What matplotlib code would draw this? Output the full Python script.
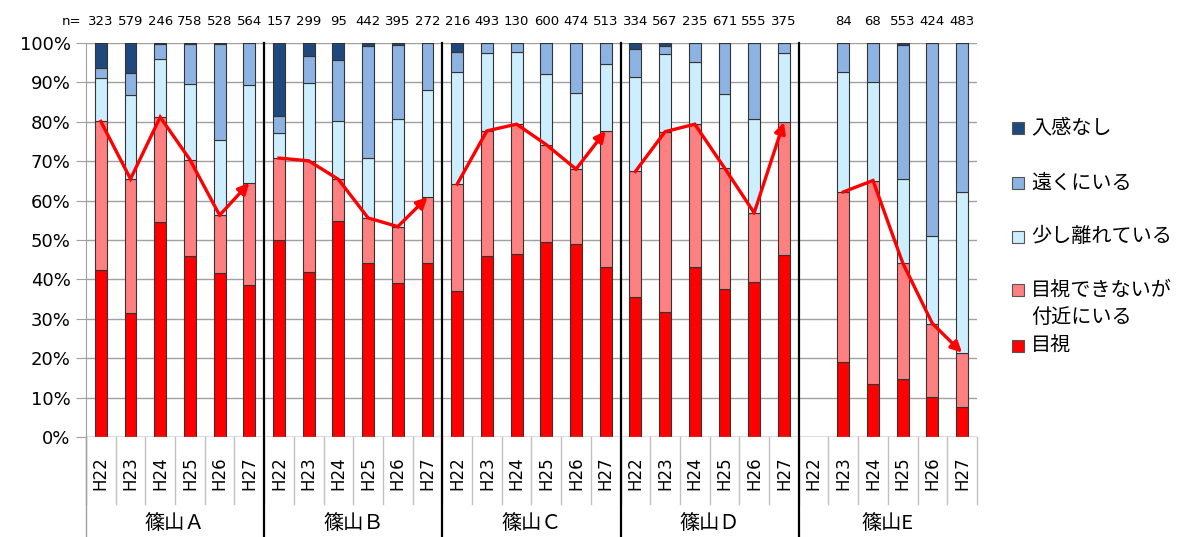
import numpy as np
import matplotlib.pyplot as plt
from matplotlib.patches import Rectangle

plt.rcParams['font.family'] = ['Noto Sans CJK JP', 'DejaVu Sans']

groups = ['篠山Ａ', '篠山Ｂ', '篠山Ｃ', '篠山Ｄ', '篠山E']
years = ['H22', 'H23', 'H24', 'H25', 'H26', 'H27']
n_values = [323, 579, 246, 758, 528, 564,
            157, 299, 95, 442, 395, 272,
            216, 493, 130, 600, 474, 513,
            334, 567, 235, 671, 555, 375,
            None, 84, 68, 553, 424, 483]

# percentages per bar, bottom to top (nan = no survey)
nan = float('nan')
mokushi = [42.5, 31.5, 54.5, 45.9, 41.6, 38.5,
           49.9, 42.0, 54.7, 44.2, 39.2, 44.2,
           37.0, 45.9, 46.4, 49.4, 48.9, 43.2,
           35.6, 31.8, 43.2, 37.6, 39.4, 46.2,
           nan, 19.1, 13.5, 14.7, 10.2, 7.7]
fukin = [37.6, 34.0, 26.7, 24.5, 14.7, 26.0,
         20.9, 28.1, 10.7, 11.4, 14.2, 16.7,
         27.2, 31.8, 33.0, 24.8, 19.1, 34.5,
         31.8, 45.7, 36.2, 30.7, 17.5, 33.7,
         nan, 43.1, 51.6, 29.5, 18.6, 13.7]
sukoshi = [10.9, 21.3, 14.8, 19.2, 19.2, 24.8,
           6.4, 19.7, 14.7, 15.2, 27.3, 27.1,
           28.4, 19.8, 18.3, 17.9, 19.4, 16.9,
           23.9, 19.7, 15.7, 18.8, 23.8, 17.6,
           nan, 30.5, 25.1, 21.3, 22.1, 40.8]
tooku = [2.7, 5.5, 3.8, 10.1, 24.2, 10.7,
         4.4, 7.0, 15.7, 28.5, 18.8, 12.0,
         5.1, 2.5, 2.3, 7.9, 12.6, 5.4,
         7.3, 2.0, 4.9, 12.9, 19.3, 2.5,
         nan, 7.3, 9.8, 34.0, 49.1, 37.8]
nyukan = [6.3, 7.7, 0.2, 0.3, 0.3, 0.0,
          18.4, 3.2, 4.2, 0.7, 0.5, 0.0,
          2.3, 0.0, 0.0, 0.0, 0.0, 0.0,
          1.4, 0.8, 0.0, 0.0, 0.0, 0.0,
          nan, 0.0, 0.0, 0.5, 0.0, 0.0]

series = [('目視', mokushi, '#ff0000'),
          ('目視できないが\n付近にいる', fukin, '#ff8080'),
          ('少し離れている', sukoshi, '#cceeff'),
          ('遠くにいる', tooku, '#8db3e2'),
          ('入感なし', nyukan, '#1f497d')]

fig = plt.figure(figsize=(11.81, 5.37), dpi=100)
ax = fig.add_axes([0.0728, 0.1862, 0.7544, 0.7337])

x = np.arange(len(mokushi))
bottom = np.zeros(len(x))
for name, vals, col in series:
    vals = np.array(vals, dtype=float)
    ax.bar(x, vals, 0.4, bottom=bottom, color=col, edgecolor='#333333',
           linewidth=0.8, zorder=3)
    bottom += vals

ax.set_xlim(-0.5, len(x) - 0.5)
ax.set_ylim(0, 100)
ax.set_yticks(np.arange(0, 101, 10))
ax.set_yticklabels([f'{v}%' for v in range(0, 101, 10)], fontsize=13,
                   family=['DejaVu Sans'])
ax.yaxis.grid(True, color='#a0a0a0', linewidth=1, zorder=0)
ax.tick_params(axis='y', length=7, color='#a0a0a0', pad=4)
ax.set_xticks([])
for s in ['top', 'right', 'bottom']:
    ax.spines[s].set_visible(False)
ax.spines['left'].set_color('#a0a0a0')
ax.axhline(0, color='#a0a0a0', lw=1, zorder=4)

tr = ax.get_xaxis_transform()
# category label separators
for i in range(len(x) + 1):
    ax.plot([i - 0.5, i - 0.5], [0, -0.17], transform=tr, color='#c0c0c0',
            lw=1, clip_on=False)
ax.plot([-0.5, -0.5], [0, -0.26], transform=tr, color='#a0a0a0', lw=1, clip_on=False)
# group separators
for g in range(1, len(groups)):
    xb = g * len(years) - 0.5
    ax.plot([xb, xb], [1, -0.26], transform=tr, color='black', lw=1.6,
            clip_on=False, zorder=5)

# year labels and group labels
for i in x:
    ax.text(i, -0.05, years[i % len(years)], transform=tr, rotation=90,
            ha='center', va='top', fontsize=12, family=['DejaVu Sans'])
for g, name in enumerate(groups):
    ax.text(g * len(years) + 2.5, -0.22, name, transform=tr, ha='center',
            va='center', fontsize=14.5)

# n labels
ax.text(-1.0, 1.055, 'n=', transform=tr, ha='center', va='center',
        fontsize=9.5, family=['DejaVu Sans'])
for i, n in enumerate(n_values):
    if n is not None:
        ax.text(i, 1.055, str(n), transform=tr, ha='center', va='center',
                fontsize=9.5, family=['DejaVu Sans'])

# trend lines with arrows
near = np.array(mokushi) + np.array(fukin)
for g in range(len(groups)):
    idx = [g * len(years) + k for k in range(len(years)) if n_values[g * len(years) + k] is not None]
    xs = x[idx]
    ys = near[idx]
    ax.plot(xs[:-1], ys[:-1], color='#ff0000', lw=2.4, zorder=6,
            solid_joinstyle='miter')
    ax.annotate('', xy=(xs[-1], ys[-1]), xytext=(xs[-2], ys[-2]),
                arrowprops=dict(arrowstyle='-|>', color='#ff0000', lw=2.4,
                                mutation_scale=16, shrinkA=0, shrinkB=0),
                zorder=6)

# legend
leg_items = [('入感なし', '#1f497d', 128), ('遠くにいる', '#8db3e2', 183),
             ('少し離れている', '#cceeff', 237),
             ('目視できないが\n付近にいる', '#ff8080', 304), ('目視', '#ff0000', 346)]
for label, col, ypx in leg_items:
    sq_y = ypx if '\n' not in label else 290
    fig.patches.append(Rectangle(((1012) / 1181, 1 - (sq_y + 6) / 537),
                                 12 / 1181, 12 / 537, transform=fig.transFigure,
                                 facecolor=col, edgecolor='#555555', lw=0.8))
    fig.text(1031 / 1181, 1 - ypx / 537, label, ha='left', va='center',
             fontsize=14.5, linespacing=1.4)

fig.savefig('out.png', dpi=100)
